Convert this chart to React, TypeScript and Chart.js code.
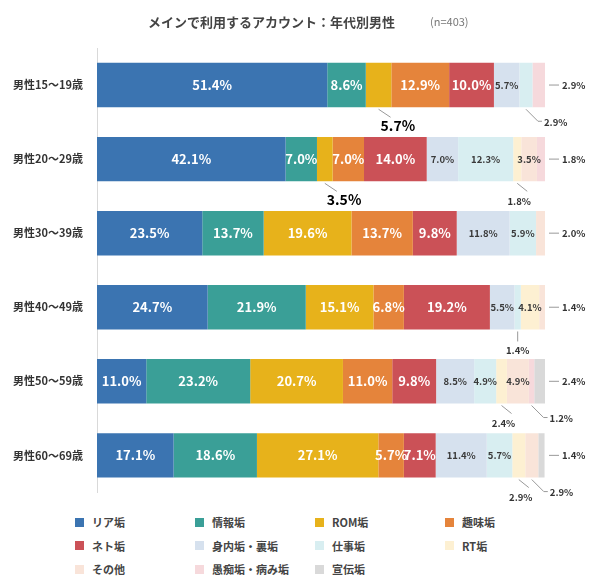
import React, { useEffect, useRef } from "react";
import { Chart, registerables } from "chart.js";
Chart.register(...registerables);

const categories = ["男性15〜19歳", "男性20〜29歳", "男性30〜39歳", "男性40〜49歳", "男性50〜59歳", "男性60〜69歳"];
const seriesNames = ["リア垢", "情報垢", "ROM垢", "趣味垢", "ネト垢", "身内垢・裏垢", "仕事垢", "RT垢", "その他", "愚痴垢・病み垢", "宣伝垢"];
const colors = ["#3b74b1", "#3a9f97", "#e7b21b", "#e5843b", "#cb5157", "#d6e1ee", "#d8eef1", "#fdf0d2", "#f9e4d9", "#f6d9dc", "#d9d9d9"];
const riaValues = [51.4, 42.1, 23.5, 24.7, 11.0, 17.1];
const johoValues = [8.6, 7.0, 13.7, 21.9, 23.2, 18.6];
const romValues = [5.7, 3.5, 19.6, 15.1, 20.7, 27.1];
const shumiValues = [12.9, 7.0, 13.7, 6.8, 11.0, 5.7];
const netoValues = [10.0, 14.0, 9.8, 19.2, 9.8, 7.1];
const miuchiValues = [5.7, 7.0, 11.8, 5.5, 8.5, 11.4];
const shigotoValues = [2.9, 12.3, 5.9, 1.4, 4.9, 5.7];
const rtValues = [0, 1.8, 0, 4.1, 2.4, 2.9];
const sonotaValues = [0, 3.5, 2.0, 1.4, 4.9, 2.9];
const guchiValues = [2.9, 1.8, 0, 0, 1.2, 0];
const sendenValues = [0, 0, 0, 0, 2.4, 1.4];
const allValues = [riaValues, johoValues, romValues, shumiValues, netoValues, miuchiValues, shigotoValues, rtValues, sonotaValues, guchiValues, sendenValues];
// outside labels: [row, series, kind]
const outsideLabels: [number, number, string][] = [
  [0, 2, "big"], [0, 6, "belowRight"], [0, 9, "right"],
  [1, 2, "big"], [1, 7, "below"], [1, 9, "right"],
  [2, 8, "right"],
  [3, 6, "straight"], [3, 8, "right"],
  [4, 7, "below"], [4, 9, "belowRight"], [4, 10, "right"],
  [5, 7, "below"], [5, 8, "belowRight"], [5, 10, "right"],
];
const FONT = "'Noto Sans CJK JP', 'Noto Sans', sans-serif";

const labelPlugin = {
  id: "labels",
  afterDatasetsDraw(chart: any) {
    const ctx = chart.ctx;
    ctx.save();
    const isOut = (r: number, s: number) => outsideLabels.find((o) => o[0] === r && o[1] === s);
    allValues.forEach((vals, s) => {
      const meta = chart.getDatasetMeta(s);
      vals.forEach((v, r) => {
        if (!v) return;
        const el = meta.data[r];
        const o = isOut(r, s);
        const txt = v.toFixed(1) + "%";
        const cx = (el.x + el.base) / 2;
        if (!o) {
          const big = s < 5;
          ctx.font = (big ? "bold 13px " : "bold 9.5px ") + FONT;
          ctx.fillStyle = big ? "#ffffff" : "#3a3a3a";
          ctx.textAlign = "center";
          ctx.textBaseline = "middle";
          ctx.fillText(txt, cx, el.y);
          return;
        }
        const h = el.height / 2;
        ctx.strokeStyle = "#999";
        ctx.lineWidth = 1;
        ctx.fillStyle = "#333";
        ctx.textBaseline = "middle";
        ctx.font = "bold 9.5px " + FONT;
        ctx.textAlign = "left";
        if (o[2] === "right") {
          const x0 = chart.chartArea.right + 4;
          ctx.beginPath(); ctx.moveTo(x0, el.y); ctx.lineTo(x0 + 10, el.y); ctx.stroke();
          ctx.fillText(txt, x0 + 13, el.y);
        } else if (o[2] === "big") {
          ctx.beginPath(); ctx.moveTo(cx, el.y + h + 2); ctx.lineTo(cx + 12, el.y + h + 10); ctx.stroke();
          ctx.font = "bold 14px " + FONT; ctx.fillStyle = "#000";
          ctx.fillText(txt, cx + 2, el.y + h + 18);
        } else if (o[2] === "belowRight") {
          ctx.beginPath(); ctx.moveTo(cx, el.y + h + 2); ctx.lineTo(cx + 12, el.y + h + 14); ctx.lineTo(cx + 16, el.y + h + 14); ctx.stroke();
          ctx.fillText(txt, cx + 18, el.y + h + 15);
        } else if (o[2] === "straight") {
          ctx.beginPath(); ctx.moveTo(cx, el.y + h + 2); ctx.lineTo(cx, el.y + h + 12); ctx.stroke();
          ctx.textAlign = "center";
          ctx.fillText(txt, cx, el.y + h + 21);
        } else {
          ctx.beginPath(); ctx.moveTo(cx, el.y + h + 2); ctx.lineTo(cx + 10, el.y + h + 10); ctx.stroke();
          ctx.textAlign = "center";
          ctx.fillText(txt, cx + 2, el.y + h + 20);
        }
      });
    });
    ctx.textBaseline = "middle";
    ctx.textAlign = "left";
    ctx.font = "bold 13px " + FONT;
    ctx.fillStyle = "#444";
    ctx.fillText("メインで利用するアカウント：年代別男性", 148, 22);
    ctx.font = "11px " + FONT;
    ctx.fillStyle = "#777";
    ctx.fillText("(n=403)", 430, 22);
    ctx.restore();
  },
};

export default function App() {
  const ref = useRef<HTMLCanvasElement>(null);
  useEffect(() => {
    const chart = new Chart(ref.current!, {
      type: "bar",
      data: {
        labels: categories,
        datasets: allValues.map((vals, i) => ({
          label: seriesNames[i],
          data: vals,
          backgroundColor: colors[i],
          borderWidth: 0,
          barPercentage: 0.6,
          categoryPercentage: 1,
        })),
      },
      options: {
        indexAxis: "y",
        animation: false,
        responsive: false,
        layout: { padding: { top: 48, right: 55, bottom: 4, left: 0 } },
        plugins: { legend: { display: false }, tooltip: { enabled: false } },
        scales: {
          x: { stacked: true, min: 0, max: 100, display: false },
          y: {
            stacked: true,
            grid: { display: false },
            border: { color: "#d9d9d9" },
            ticks: { color: "#333", font: { family: FONT, size: 11, weight: "bold" }, padding: 6 },
            afterFit: (s: any) => { s.width = 97; },
          },
        },
      },
      plugins: [labelPlugin],
    } as any);
    return () => chart.destroy();
  }, []);
  const colX = [75, 195, 315, 445];
  return (
    <div style={{ position: "fixed", left: 0, top: 0, width: 600, height: 588, background: "#fff", fontFamily: FONT }}>
      <canvas ref={ref} width={600} height={505} style={{ display: "block" }} />
      {seriesNames.map((n, i) => (
        <div key={n} style={{ position: "absolute", left: colX[i % 4], top: 514 + Math.floor(i / 4) * 23.5, display: "flex", alignItems: "center", fontSize: 11, fontWeight: "bold", color: "#444" }}>
          <span style={{ width: 9, height: 9, background: colors[i], display: "inline-block", marginRight: 8 }} />
          {n}
        </div>
      ))}
    </div>
  );
}
